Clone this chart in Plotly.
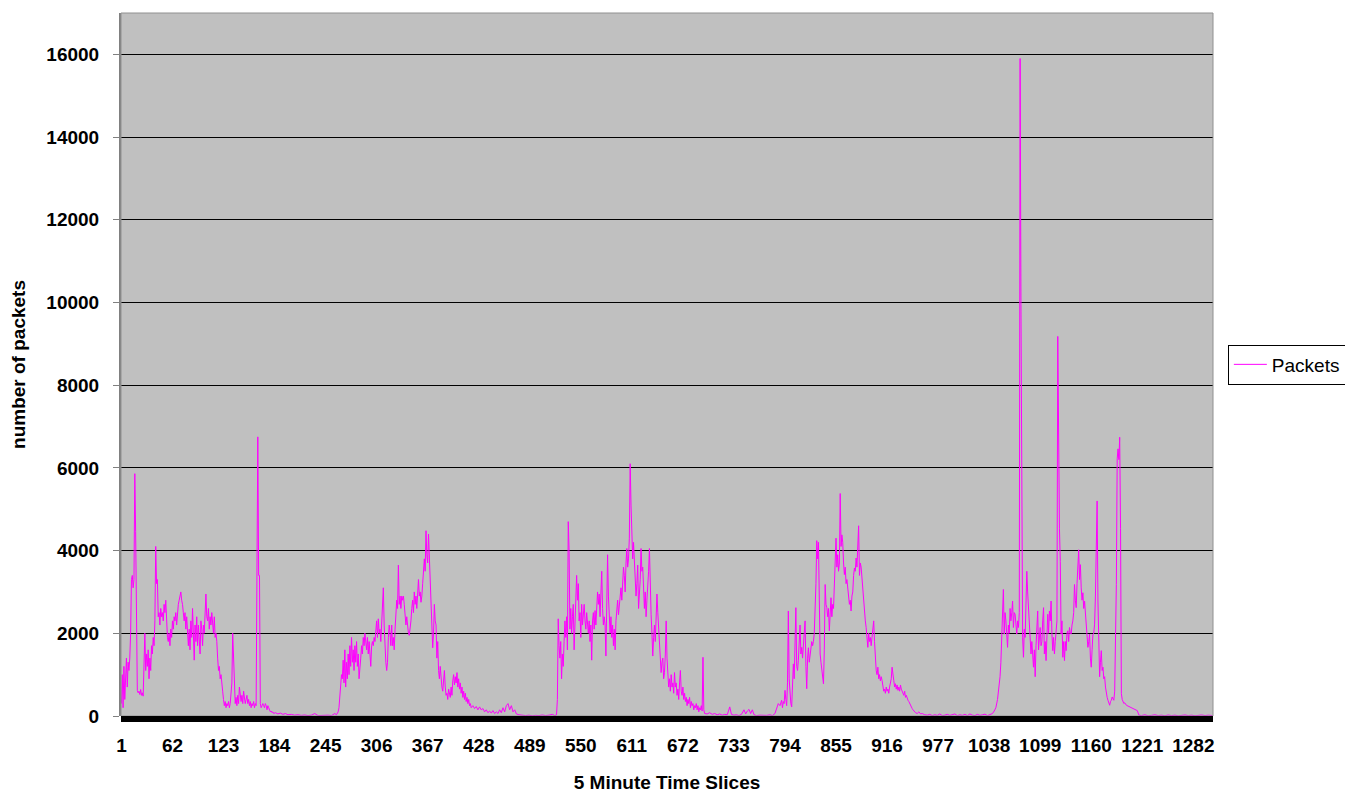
import plotly.graph_objects as go

# ---------------- data ----------------
# dense stretches: first slice number + consecutive packet counts
day1_start = 1
day1_packets = [
    300, 1000, 200, 1200, 400, 1300, 1400, 700, 1300, 1100, 1400, 2000, 3300, 3400, 3100, 3300, 5860, 4460, 1820, 620,
    560, 600, 520, 640, 500, 560, 480, 1200, 2000, 1100, 1500, 1200, 1600, 900, 1400, 1100, 1700, 1500, 1900, 1700,
    2300, 4100, 3200, 3300, 2400, 2500, 2200, 2600, 2400, 2500, 2300, 2700, 2500, 2800, 2200, 1900, 1800, 2000, 1700, 2100,
    1900, 2300, 2100, 2400, 2300, 2500, 2200, 2600, 2700, 2800, 2900, 3000, 2800, 2700, 2500, 2300, 2500, 2100, 2400, 2000,
    1700, 2100, 1600, 2300, 1900, 2600, 2000, 1350, 2200, 1800, 2400, 1700, 2200, 1900, 1500, 2300, 2100, 1700, 2200, 2000,
    2500, 2950, 2400, 2300, 2600, 2100, 2400, 2200, 2500, 2300, 2000, 2400, 1900, 2000, 1800, 1400, 1100, 1200, 900, 1000,
    700, 600, 400, 250, 350, 200, 300, 250, 350, 200, 300, 500, 800, 2000, 1400, 700, 300, 450, 250, 500,
    300, 700, 450, 350, 500, 300, 600, 400, 300, 400, 500, 300, 400, 250, 350, 200, 300, 250, 350, 200,
    300, 250, 3500, 6750, 3400, 3400, 300, 200, 250, 300, 250, 200, 300, 250, 150, 250, 200, 150, 100, 120,
    80, 100, 60,
]

quiet1_slices = [185, 188, 191, 194, 197, 200, 204, 208, 212, 216, 220, 224, 228, 232, 236, 240, 244, 248, 252, 256, 258, 260]
quiet1_packets = [80, 50, 70, 40, 60, 30, 40, 20, 30, 15, 25, 10, 20, 60, 10, 15, 5, 20, 10, 60, 30, 100]

day2_start = 261
day2_packets = [
    200, 500, 800, 1000, 900, 1350, 800, 1600, 700, 1300, 900, 1500, 1000, 1700, 1200, 1900, 1300, 1600, 1100, 1700,
    1300, 1800, 1200, 1500, 900, 1100, 1400, 1700, 1500, 1900, 1700, 2000, 1800, 1600, 1900, 1500, 1800, 1300, 1200, 1700,
    1800, 1700, 1900, 1800, 2000, 2300, 1900, 2350, 2000, 2100, 1800, 2300, 2700, 3100, 2200, 1600, 1300, 1100, 1300, 1900,
    2200, 2000, 1700, 2200, 1700, 1900, 1600, 2100, 2500, 2800, 2600, 3650, 2700, 2900, 2600, 2900, 2800, 2900, 2700, 2500,
    2200, 2400, 2100, 2000, 1950, 2100, 2300, 2600, 2800, 2500, 3000, 2700, 2900, 2600, 3100, 3300, 2900, 3000, 2750, 2900,
    3200, 3500, 3800, 3500, 4480, 3900, 3700, 4400, 3900, 3500, 2700, 2300, 1650, 2000, 2700, 2300, 2200, 1400, 1800, 1100,
    900, 1200, 900, 700, 600, 800, 1100, 700, 500, 550, 400, 650, 500, 450, 700, 500, 850, 1000, 750, 950,
    800, 1050, 700, 900, 650, 800, 550, 700, 450, 600, 400, 550, 350, 450, 300, 400, 250, 300, 200,
]

quiet2_slices = [421, 423, 425, 427, 429, 431, 433, 435, 437, 439, 441, 443, 445, 447, 449, 451, 453, 455, 457, 459,
                 461, 463, 465, 467, 469, 471, 473, 476, 480, 484, 488, 492, 496, 500, 504, 508, 512, 516, 519, 521]
quiet2_packets = [250, 180, 230, 150, 220, 150, 180, 100, 150, 80, 120, 70, 130, 60, 100, 60, 150, 80, 200, 100,
                  250, 300, 150, 250, 100, 150, 50, 30, 20, 10, 20, 5, 15, 10, 25, 10, 20, 40, 10, 30]

day3_start = 522
day3_packets = [
    400, 2350, 1700, 1400, 1800, 900, 1500, 1200, 1800, 2300, 1900, 2400, 1600, 4700, 4000, 2100, 2600, 2000, 2400, 2700,
    1600, 2300, 2600, 3400, 2800, 3200, 2300, 2500, 1900, 2700, 2200, 2500, 2700, 2300, 2100, 2500, 2200, 2000, 2300, 1800,
    2200, 1350, 2300, 2500, 2100, 2550, 2200, 2600, 3000, 2700, 2950, 2400, 2800, 3500, 2600, 2200, 2400, 2200, 1450, 2600,
    3900, 2900, 2300, 2000, 2400, 1900, 2200, 1700, 2100, 1600, 2300, 2500, 2800, 2450, 2700, 2900, 3100, 2800, 3300, 3600,
    3400, 3000, 3700, 4050, 3600, 3800, 4300, 6100, 5100, 4000, 3800, 4200, 3600, 3400, 2900, 3200, 3650, 2600, 2900, 3300,
    4050, 3500, 3600, 2900, 2600, 3000, 2400, 2800, 3100, 3500, 4050, 3000, 2450, 2000, 1450, 1900, 2200, 1800, 2500, 2950,
    2500, 2100, 2000, 1600, 1050, 1300, 1400, 900, 1050, 1500, 2300, 1400, 850, 700, 900, 600, 1000, 700, 800, 550,
    1050, 700, 800, 500, 650, 400, 800, 1100, 600, 500, 700, 400, 550, 350, 450, 250, 400, 300, 450, 200,
    350, 250, 300, 150, 250, 200, 300, 150, 250, 100, 200, 150, 250, 120, 1420, 150,
]

quiet3_slices = [698, 701, 704, 707, 710, 713, 716, 719, 722, 725, 728, 730, 733, 736, 739, 742, 745, 747, 749, 751,
                 753, 755, 757, 760, 764, 768, 772, 776, 779, 782, 784, 786, 788, 790, 791, 792]
quiet3_packets = [60, 50, 80, 40, 60, 30, 50, 20, 40, 30, 220, 40, 20, 30, 10, 40, 150, 50, 120, 160,
                  60, 150, 30, 10, 20, 10, 15, 30, 10, 60, 200, 300, 250, 380, 200, 350]

day4_start = 793
day4_packets = [
    300, 620, 400, 250, 800, 2540, 900, 380, 300, 220, 700, 1260, 900, 2100, 2620, 1200, 1100, 1350, 1800, 2200,
    1500, 1660, 1400, 1820, 2000, 2300, 1200, 660, 1400, 1650, 1300, 1500, 1600, 1800, 1700, 1800, 2000, 2460, 3200, 4240,
    3800, 4200, 1800, 1500, 1300, 1100, 900, 780, 1600, 3180, 2700, 2620, 2400, 2600, 2060, 2500, 2860, 2400, 2700, 2600,
    3180, 3800, 4300, 3600, 3900, 3500, 3700, 5380, 4100, 4380, 4200, 3700, 3420, 3600, 3200, 3300, 3020, 2900, 2700, 2800,
    2540, 2900, 3000, 3400, 3580, 3500, 3820, 3600, 4060, 4600, 3400, 3700, 3600, 3300, 3100, 2900, 2540, 2300, 2140, 1900,
    1660, 2000, 1800, 1900, 1700, 1900, 2100, 2300, 1800, 1300, 1100, 1000, 1180, 900, 1000, 850, 950, 860, 700, 600,
    650, 550, 700, 600, 650, 550, 700, 800, 900, 1180, 900, 860, 700, 780, 650, 750, 620, 700, 600, 750,
    650, 600, 550, 500, 600, 450, 500, 400, 380, 350, 300, 250, 220, 180, 150, 120,
]

quiet4_slices = [950, 952, 954, 956, 958, 961, 964, 967, 970, 973, 976, 979, 982, 985, 988, 991, 994, 997, 1000, 1003,
                 1006, 1009, 1012, 1015, 1018, 1021, 1024, 1027, 1030, 1033, 1036, 1039, 1042, 1044, 1046, 1048, 1050, 1051, 1052]
quiet4_packets = [80, 60, 100, 50, 60, 30, 20, 40, 10, 30, 15, 50, 10, 20, 40, 15, 30, 50, 10, 30,
                  15, 40, 10, 50, 20, 10, 40, 15, 30, 45, 10, 40, 60, 120, 200, 400, 700, 950, 1300]

day5_start = 1053
day5_packets = [
    1820, 2400, 3060, 1980, 2500, 2300, 2000, 1660, 2200, 2000, 2600, 2300, 2500, 2780, 2140, 2500, 2460, 2200, 1980, 2300,
    2140, 2500, 15900, 9950, 3340, 1900, 1420, 2100, 1900, 2800, 3500, 3000, 2600, 2380, 2000, 1500, 1800, 1340, 1180, 1600,
    950, 1700, 2000, 2540, 1600, 1900, 2140, 1700, 1800, 2300, 2620, 1500, 1800, 1340, 1900, 2460, 2000, 2540, 2300, 2780,
    2000, 1580, 1900, 1500, 1800, 1980, 2300, 9180, 5620, 4540, 3740, 1980, 2300, 1420, 1800, 1340, 1800, 1580, 2000, 2060,
    1800, 2140, 2000, 1980, 2200, 2300, 2500, 3180, 2800, 2620, 3200, 3740, 4020, 3300, 3660, 3100, 2800, 2980, 2600, 2780,
    2500, 2380, 2000, 1660, 1800, 1980, 1400, 1180, 1600, 1980, 2000, 2220, 2900, 3740, 5200, 2780, 1500, 950, 1300, 1580,
    1100, 1180, 900, 950, 700, 540, 450, 380, 300, 260, 350, 380, 460, 400, 380, 600, 1500, 3180, 6220, 6460,
    6200, 6740, 4540, 540, 400, 350, 300, 320,
]

quiet5_slices = [1202, 1204, 1206, 1208, 1210, 1212, 1214, 1215, 1217, 1220, 1224, 1228, 1232, 1236, 1240, 1244, 1248, 1252,
                 1256, 1260, 1264, 1268, 1272, 1276, 1280, 1284, 1288, 1292, 1296, 1300, 1305]
quiet5_packets = [260, 240, 220, 200, 190, 170, 160, 130, 20, 10, 30, 5, 15, 30, 10, 20, 5, 25, 10, 20, 5, 15, 25, 10,
                  20, 5, 15, 25, 10, 20, 10]

x_tick_labels = ["1", "62", "123", "184", "245", "306", "367", "428", "489", "550", "611", "672",
                 "733", "794", "855", "916", "977", "1038", "1099", "1160", "1221", "1282"]
y_tick_values = [0, 2000, 4000, 6000, 8000, 10000, 12000, 14000, 16000]
y_tick_labels = ["0", "2000", "4000", "6000", "8000", "10000", "12000", "14000", "16000"]
series_name = "Packets"

# ---------------- assemble ----------------
points = {}
for start, vals in [(day1_start, day1_packets), (day2_start, day2_packets), (day3_start, day3_packets),
                    (day4_start, day4_packets), (day5_start, day5_packets)]:
    for i, v in enumerate(vals):
        points[start + i] = v
for xs, ys in [(quiet1_slices, quiet1_packets), (quiet2_slices, quiet2_packets), (quiet3_slices, quiet3_packets),
               (quiet4_slices, quiet4_packets), (quiet5_slices, quiet5_packets)]:
    for xv, yv in zip(xs, ys):
        points[xv] = yv
xs_all = sorted(points)
ys_all = [points[k] for k in xs_all]

FONT = "Liberation Sans, Arial, sans-serif"

fig = go.Figure()
fig.add_trace(go.Scatter(
    x=xs_all, y=ys_all, mode="lines", name=series_name,
    line=dict(color="#FF00FF", width=1),
))

# margins compensate for the page's default 8px body offset
fig.update_layout(
    width=1353, height=794,
    margin=dict(l=105, r=148, t=5, b=86),
    paper_bgcolor="white",
    plot_bgcolor="#C0C0C0",
    showlegend=True,
    legend=dict(
        x=1.0136, y=0.5, xanchor="left", yanchor="middle",
        bgcolor="white", bordercolor="black", borderwidth=1,
        itemwidth=33,
        font=dict(family=FONT, size=19, color="black"),
    ),
    xaxis=dict(
        range=[0.5, 1305.5],
        tickmode="array",
        tickvals=[int(t) for t in x_tick_labels],
        ticktext=x_tick_labels,
        ticks="", showgrid=False, zeroline=False, showline=False,
        tickfont=dict(family=FONT, size=19, color="black", weight="bold"),
        ticklabelstandoff=16,
        title=dict(text="5 Minute Time Slices", standoff=20,
                   font=dict(family=FONT, size=19, color="black", weight="bold")),
    ),
    yaxis=dict(
        range=[0, 17000],
        tickmode="array", tickvals=y_tick_values, ticktext=y_tick_labels,
        showgrid=True, gridcolor="black", gridwidth=1,
        zeroline=False,
        showline=True, linecolor="#808080", linewidth=2,
        ticks="outside", ticklen=6, tickcolor="#808080",
        ticklabelstandoff=10,
        tickfont=dict(family=FONT, size=19, color="black", weight="bold"),
        title=dict(text="number of packets", standoff=20,
                   font=dict(family=FONT, size=19, color="black", weight="bold")),
    ),
    shapes=[
        dict(type="rect", xref="paper", yref="paper", x0=0, x1=1, y0=0, y1=1,
             line=dict(color="#909090", width=1), fillcolor="rgba(0,0,0,0)", layer="above"),
        dict(type="rect", xref="paper", yref="paper", x0=0, x1=1,
             ysizemode="pixel", yanchor=0, y0=-6, y1=0,
             line=dict(width=0), fillcolor="black", layer="above"),
    ],
)

fig.write_html("out.html", config={"displayModeBar": False})
